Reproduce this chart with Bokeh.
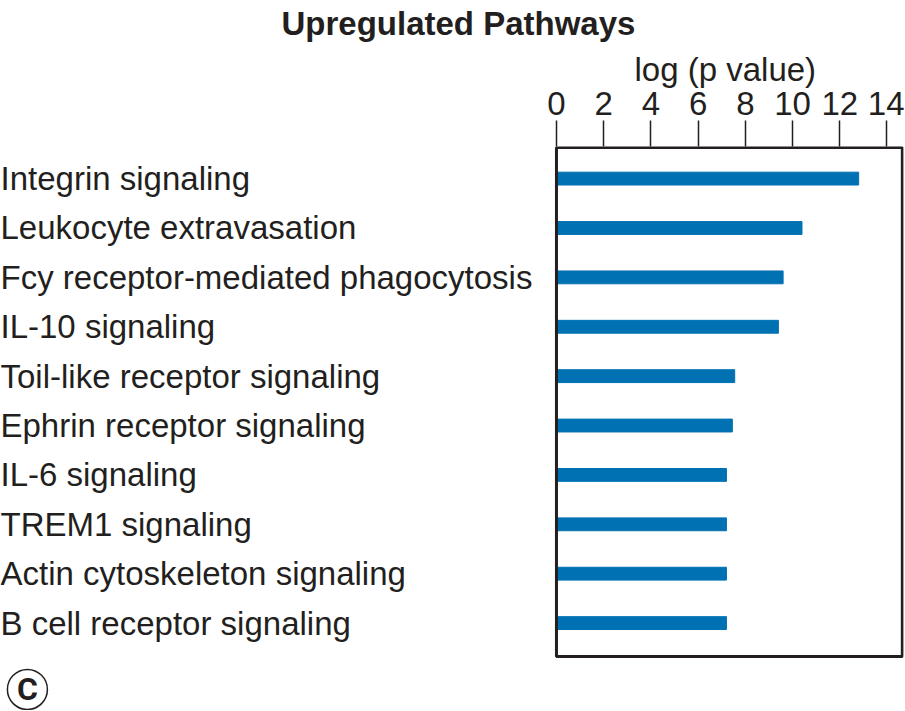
from bokeh.plotting import figure
from bokeh.models import Range1d, FixedTicker, BoxAnnotation, Title, ColumnDataSource
from bokeh.core.properties import value
from bokeh.embed import file_html
from bokeh.resources import INLINE

# ---- data ----
pathways = [
    "Integrin signaling",
    "Leukocyte extravasation",
    "Fcy receptor-mediated phagocytosis",
    "IL-10 signaling",
    "Toil-like receptor signaling",
    "Ephrin receptor signaling",
    "IL-6 signaling",
    "TREM1 signaling",
    "Actin cytoskeleton signaling",
    "B cell receptor signaling",
]
log_p = [12.8, 10.4, 9.6, 9.4, 7.55, 7.45, 7.2, 7.2, 7.2, 7.2]
x_ticks = [0, 2, 4, 6, 8, 10, 12, 14]
title_text = "Upregulated Pathways"
axis_text = "log (p value)"
panel_tag = "C"

# ---- layout constants (styling) ----
FONT = "Liberation Sans"
INK = "#231f20"
BAR = "#0071b3"
X_START, X_END = -23.55, 14.70
BOX_RIGHT = 14.65
Y_TOP, Y_BOTTOM = -0.65, 10.77
BOX_BOTTOM = 9.675
TAG_X, TAG_Y = -22.41, 10.344

rows = list(range(len(pathways)))
src = ColumnDataSource(dict(
    y=rows,
    v=log_p,
    name=pathways,
    lx=[X_START] * len(pathways),
))

p = figure(
    width=904, height=710,
    x_range=Range1d(X_START, X_END),
    y_range=Range1d(Y_BOTTOM, Y_TOP),
    x_axis_location="above", y_axis_location=None,
    output_backend="svg", toolbar_location=None,
    min_border_left=0, min_border_right=1, min_border_bottom=0, min_border_top=0,
    title=None,
)
p.outline_line_color = None
p.xgrid.visible = False
p.ygrid.visible = False
p.background_fill_color = "white"
p.border_fill_color = "white"

ax = p.xaxis[0]
ax.ticker = FixedTicker(ticks=x_ticks)
ax.axis_line_color = None
ax.major_tick_out = 26
ax.major_tick_in = 0
ax.major_tick_line_color = INK
ax.major_tick_line_width = 1.5
ax.minor_tick_line_color = None
ax.major_label_text_font = FONT
ax.major_label_text_font_size = "33px"
ax.major_label_text_color = INK
ax.major_label_standoff = 6

p.add_layout(Title(text=axis_text, align="left", offset=634,
                   text_font=FONT, text_font_size="33px", text_font_style="normal",
                   text_color=INK, standoff=2), "above")
p.add_layout(Title(text=title_text, align="left", offset=281,
                   text_font=FONT, text_font_size="33px", text_font_style="bold",
                   text_color=INK, standoff=8, vertical_align="top",
                   text_line_height=0.9), "above")

p.add_layout(BoxAnnotation(left=0, right=BOX_RIGHT, top=Y_TOP + 0.02, bottom=BOX_BOTTOM,
                           fill_color=None, line_color=INK, line_alpha=1.0, line_width=3))

p.hbar(y="y", left=0, right="v", height=0.26, source=src, color=BAR)

p.text(x="lx", y="y", text="name", source=src, text_align="left", text_baseline="middle",
       text_font=value(FONT), text_font_size="33px", text_color=INK)

# panel tag "C" in a circle
p.scatter(x=[TAG_X], y=[TAG_Y], size=40, marker="circle",
          fill_color=None, line_color=INK, line_width=1.5)
p.text(x=[TAG_X], y=[TAG_Y], text=[panel_tag],
       text_align="center", text_baseline="middle",
       text_font=value("Roboto"), text_font_style="bold",
       text_font_size="32px", text_color=INK)

open("out.html", "w").write(file_html(p, INLINE))
